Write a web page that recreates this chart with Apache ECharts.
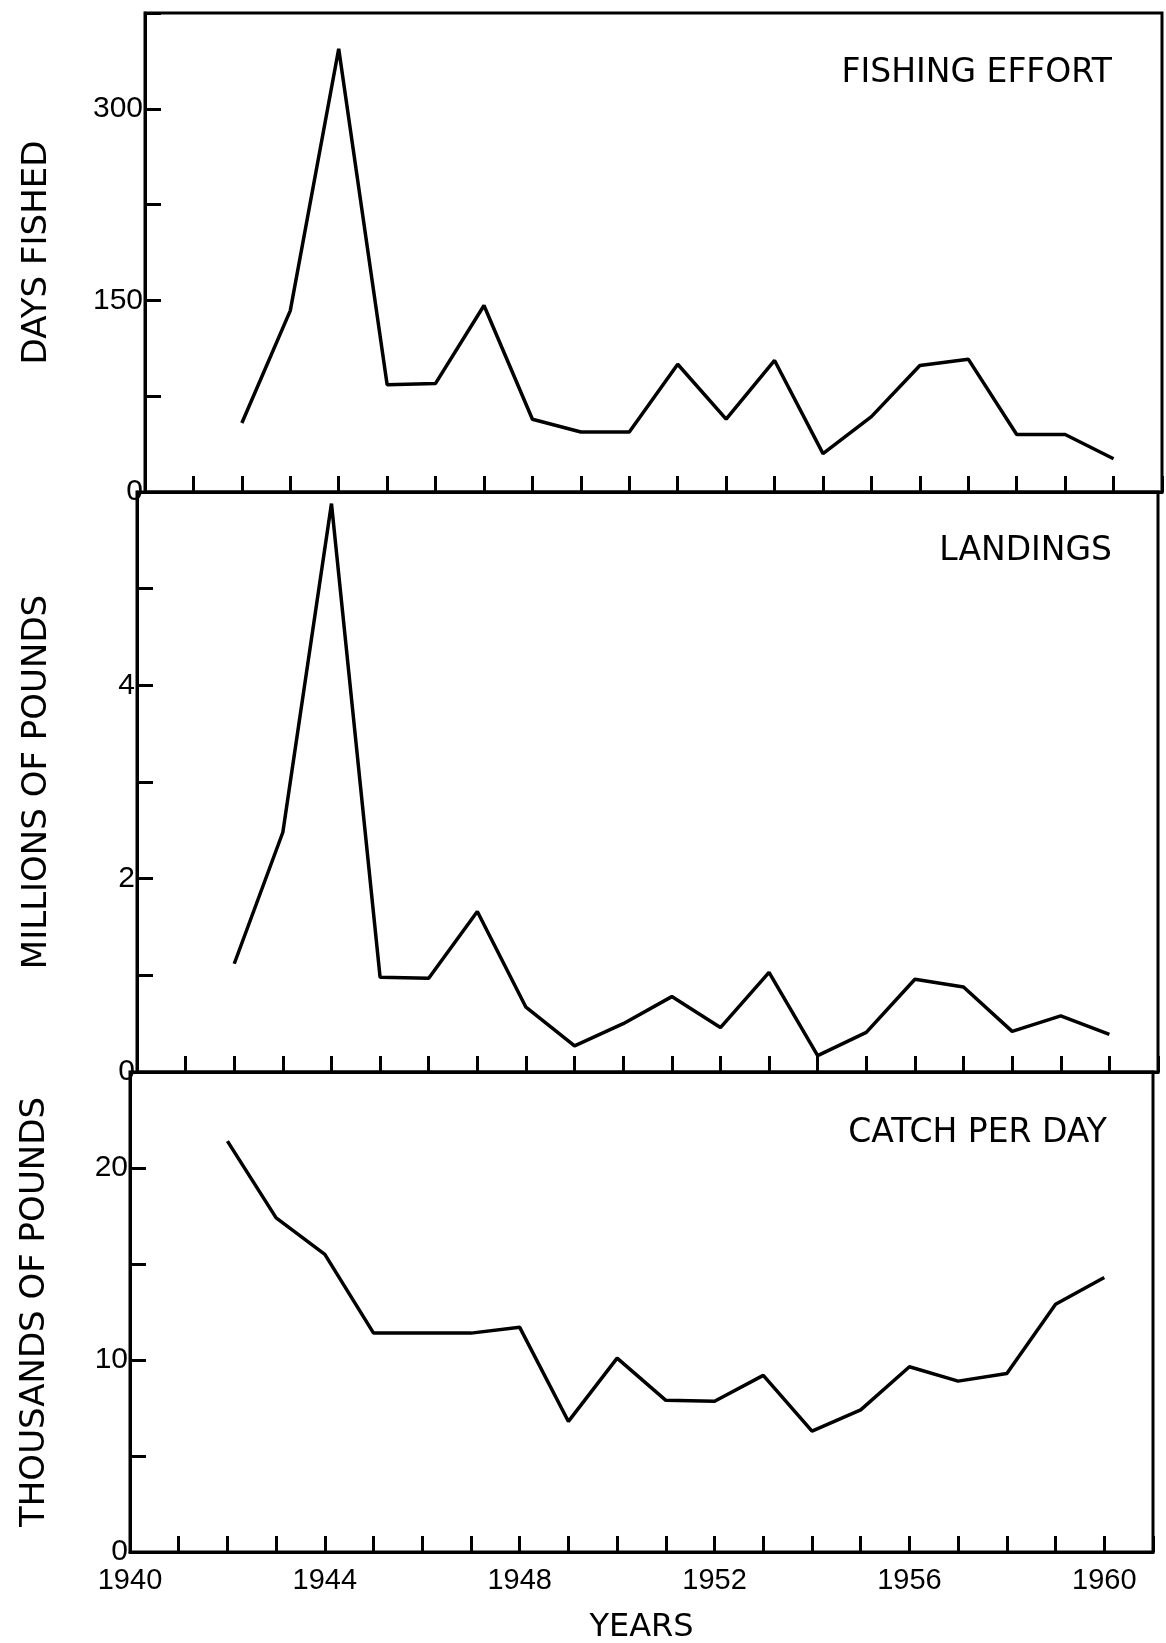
<!DOCTYPE html>
<html>
<head>
<meta charset="utf-8">
<script src="https://cdn.jsdelivr.net/npm/echarts@6/dist/echarts.min.js"></script>
<style>
html,body{margin:0;padding:0;background:#fff;}
#chart{width:1166px;height:1643px;}
</style>
</head>
<body>
<div id="chart"></div>
<script>
// ---- data ----
const years = [1942,1943,1944,1945,1946,1947,1948,1949,1950,1951,1952,1953,1954,1955,1956,1957,1958,1959,1960];
const daysFished = [54,142,347,84,85,146,57,47,47,100,57,103,30,59,99,104,45,45,26];
const landings = [1.12,2.48,5.88,0.98,0.97,1.66,0.67,0.27,0.5,0.78,0.46,1.03,0.17,0.41,0.96,0.88,0.42,0.58,0.39];
const catchPerDay = [21.4,17.4,15.5,11.4,11.4,11.4,11.7,6.8,10.1,7.9,7.85,9.2,6.3,7.4,9.65,8.9,9.3,12.9,14.3];
const panelTitles = ['FISHING EFFORT','LANDINGS','CATCH PER DAY'];
const yNames = ['DAYS FISHED','MILLIONS OF POUNDS','THOUSANDS OF POUNDS'];
const xName = 'YEARS';
const yearTicks = [1940,1944,1948,1952,1956,1960];

const pair = (vals) => years.map((y,i)=>[y, vals[i]]);

const chart = echarts.init(document.getElementById('chart'), null, {renderer:'canvas'});
const numFont = 'Liberation Sans';
const txtFont = 'DejaVu Sans';

function xAxis(gi, showLabel){
  return {
    type:'value', gridIndex:gi, min:1940, max:1961, interval:1,
    axisLine:{show:true, lineStyle:{color:'#000', width:3}},
    axisTick:{show:true, inside:true, length:16, lineStyle:{color:'#000', width:3}},
    splitLine:{show:false},
    axisLabel:{show:showLabel, margin:14, color:'#000', fontSize:29, fontFamily:numFont,
      formatter:(v)=> yearTicks.indexOf(v) >= 0 ? String(v) : ''},
    name: showLabel ? xName : '', nameLocation:'middle', nameGap:60,
    nameTextStyle:{color:'#000', fontSize:32, fontFamily:txtFont}
  };
}
function yAxis(gi, max, interval, labelStep, name, gap){
  return {
    type:'value', gridIndex:gi, min:0, max:max, interval:interval,
    axisLine:{show:true, lineStyle:{color:'#000', width:3}},
    axisTick:{show:true, inside:true, length:16, lineStyle:{color:'#000', width:3}},
    splitLine:{show:false},
    axisLabel:{margin:2, color:'#000', fontSize:30, fontFamily:numFont,
      formatter:(v)=> (Math.abs(v % labelStep) < 1e-9 && v < max) ? String(v) : ''},
    name:name, nameLocation:'middle', nameRotate:90, nameGap:gap,
    nameTextStyle:{color:'#000', fontSize:34, fontFamily:txtFont}
  };
}

const titleStyle = {color:'#000', fontSize:33, fontWeight:'normal', fontFamily:txtFont};

const option = {
  backgroundColor:'#fff',
  animation:false,
  title:[
    {text:panelTitles[0], right:54, top:57, padding:0, textStyle:titleStyle},
    {text:panelTitles[1], right:54, top:535, padding:0, textStyle:titleStyle},
    {text:panelTitles[2], right:59, top:1117, padding:0, textStyle:titleStyle}
  ],
  grid:[
    {left:145, right:4, top:13, height:479, show:true, borderColor:'#000', borderWidth:3, backgroundColor:'transparent', outerBoundsMode:'none'},
    {left:137, right:8, top:492, height:580, show:true, borderColor:'#000', borderWidth:3, backgroundColor:'transparent', outerBoundsMode:'none'},
    {left:130, right:13, top:1072, height:480, show:true, borderColor:'#000', borderWidth:3, backgroundColor:'transparent', outerBoundsMode:'none'}
  ],
  xAxis:[xAxis(0,false), xAxis(1,false), xAxis(2,true)],
  yAxis:[
    yAxis(0, 375, 75, 150, yNames[0], 91),
    yAxis(1, 6, 1, 2, yNames[1], 83),
    yAxis(2, 25, 5, 10, yNames[2], 78)
  ],
  series:[
    {type:'line', xAxisIndex:0, yAxisIndex:0, data:pair(daysFished), symbol:'none', lineStyle:{color:'#000', width:3.5}},
    {type:'line', xAxisIndex:1, yAxisIndex:1, data:pair(landings), symbol:'none', lineStyle:{color:'#000', width:3.5}},
    {type:'line', xAxisIndex:2, yAxisIndex:2, data:pair(catchPerDay), symbol:'none', lineStyle:{color:'#000', width:3.5}}
  ]
};
chart.setOption(option);
</script>
</body>
</html>
